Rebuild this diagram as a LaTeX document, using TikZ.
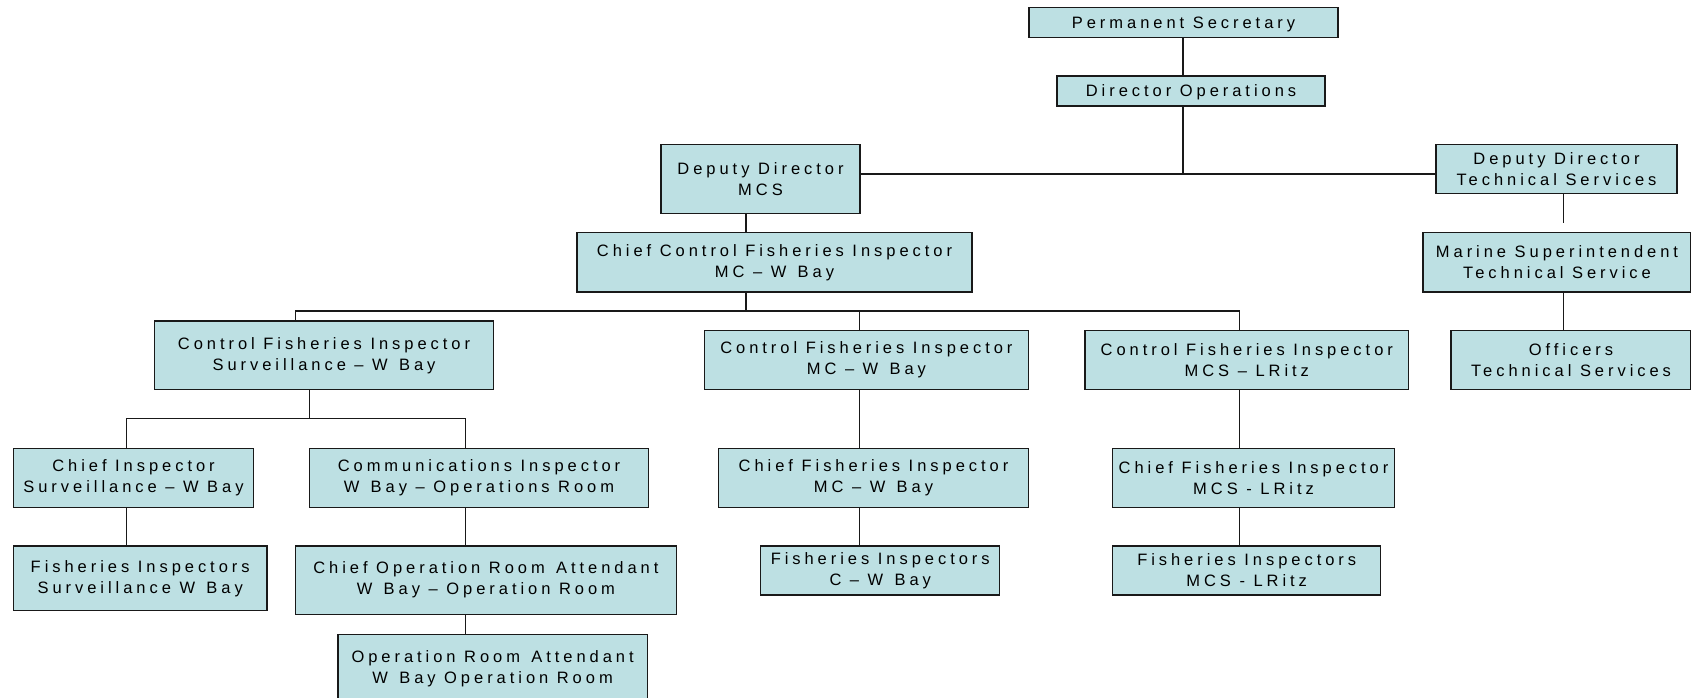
\documentclass[tikz,border=0pt]{standalone}
\usepackage{fontspec}
\setmainfont{Liberation Sans}
\usetikzlibrary{positioning, calc}
\definecolor{boxfill}{HTML}{BDE0E3}
\tikzset{
  post/.style={draw=black!90, line width=1.3pt, fill=boxfill, align=center,
    inner sep=0pt, font=\fontsize{16.5}{21}\selectfont\addfontfeature{LetterSpace=24}},
  oneline/.style={text height=15pt, text depth=3pt},
  link/.style={draw=black!90, line width=1.2pt}
}

\begin{document}
\begin{tikzpicture}[x=1pt, y=-1pt]
\useasboundingbox (0,0) rectangle (1691,698);

% top of the chart
\node[post, oneline, minimum width=309pt, minimum height=30pt] (ps) at (1183.5,22.3) {Permanent Secretary};
\node[post, oneline, minimum width=268pt, minimum height=30pt] (dirops) at (1191,91) {Director Operations};
\node[post, minimum width=199pt, minimum height=68.6pt] (ddmcs) at (760.5,179) {Deputy Director\\MCS};
\node[post, minimum width=241pt, minimum height=48.6pt] (ddts) at (1556.5,169) {Deputy Director\\Technical Services};

% technical services branch
\node[post, minimum width=268pt, minimum height=59.3pt] (mst) at (1557,262.3) {Marine Superintendent\\Technical Service};
\node[post, minimum width=240pt, minimum height=58.6pt] (ots) at (1571,360) {Officers\\Technical Services};

% MCS branch
\node[post, minimum width=395pt, minimum height=59.3pt] (ccfi) at (774.5,262.3) {Chief Control Fisheries Inspector\\MC -- W\, Bay};
\node[post, minimum width=339pt, minimum height=68.7pt] (cfis) at (324,355.3) {Control Fisheries Inspector\\Surveillance -- W\, Bay};
\node[post, minimum width=323.7pt, minimum height=58.6pt] (cfimc) at (866.4,360) {Control Fisheries Inspector\\MC -- W\, Bay};
\node[post, minimum width=323.7pt, minimum height=58.6pt] (cfimcs) at (1246.8,360) {Control Fisheries Inspector\\MCS -- LRitz};

% surveillance
\node[post, minimum width=240pt, minimum height=59pt] (cis) at (133.5,477.8) {Chief Inspector\\Surveillance -- W Bay};
\node[post, minimum width=338.4pt, minimum height=59pt] (comm) at (479,477.8) {Communications Inspector\\W\, Bay -- Operations Room};
\node[post, minimum width=253.6pt, minimum height=64.7pt] (fis) at (140.2,578.3) {Fisheries Inspectors\\Surveillance W\, Bay};
\node[post, minimum width=380.8pt, minimum height=68.3pt] (cora) at (485.9,580.2) {Chief Operation Room\, Attendant\\W\, Bay -- Operation Room};
\node[post, minimum width=309.3pt, minimum height=68pt] (ora) at (492.6,668.3) {Operation Room\, Attendant\\W\, Bay Operation Room};

% MC and MCS columns
\node[post, minimum width=309.5pt, minimum height=59pt] (chfimc) at (873.5,477.8) {Chief Fisheries Inspector\\MC -- W\, Bay};
\node[post, minimum width=281.8pt, minimum height=59pt] (chfimcs) at (1253.5,477.8) {Chief Fisheries Inspector\\MCS - LRitz};
\node[post, minimum width=239.2pt, minimum height=49pt] (fimc) at (880.2,570.5) {Fisheries Inspectors\\C -- W\, Bay};
\node[post, minimum width=268.2pt, minimum height=49pt] (fimcs) at (1246.7,570.5) {Fisheries Inspectors\\MCS - LRitz};

% junctions
\coordinate (jtop) at (1183,174);
\coordinate (jmcs) at (746,311);
\coordinate (jsur) at (309.8,418.7);
\coordinate (gap) at (1563.5,222.7);

% connectors
\draw[link] (ps.south -| jtop) -- (dirops.north -| jtop);
\draw[link] (dirops.south -| jtop) -- (jtop);
\draw[link] (ddmcs.east |- jtop) -- (ddts.west |- jtop);
\draw[link] (ddts.south -| gap) -- (gap);
\draw[link] (mst.south -| gap) -- (ots.north -| gap);
\draw[link] (ddmcs.south -| jmcs) -- (ccfi.north -| jmcs);
\draw[link] (ccfi.south -| jmcs) -- (jmcs);
\draw[link] (cfis.north -| 295.5,0) |- (jmcs) -| (cfimcs.north -| 1239.6,0);
\draw[link] (jmcs -| 859.2,0) -- (cfimc.north -| 859.2,0);
\draw[link] (cfis.south -| jsur) -- (jsur);
\draw[link] (cis.north -| 126.3,0) |- (jsur) -| (comm.north -| 465.2,0);
\draw[link] (cis.south -| 126.3,0) -- (fis.north -| 126.3,0);
\draw[link] (comm.south -| 465.2,0) -- (cora.north -| 465.2,0);
\draw[link] (cora.south -| 465.2,0) -- (ora.north -| 465.2,0);
\draw[link] (cfimc.south -| 859.2,0) -- (chfimc.north -| 859.2,0);
\draw[link] (chfimc.south -| 859.2,0) -- (fimc.north -| 859.2,0);
\draw[link] (cfimcs.south -| 1239.6,0) -- (chfimcs.north -| 1239.6,0);
\draw[link] (chfimcs.south -| 1239.6,0) -- (fimcs.north -| 1239.6,0);
\end{tikzpicture}
\end{document}
